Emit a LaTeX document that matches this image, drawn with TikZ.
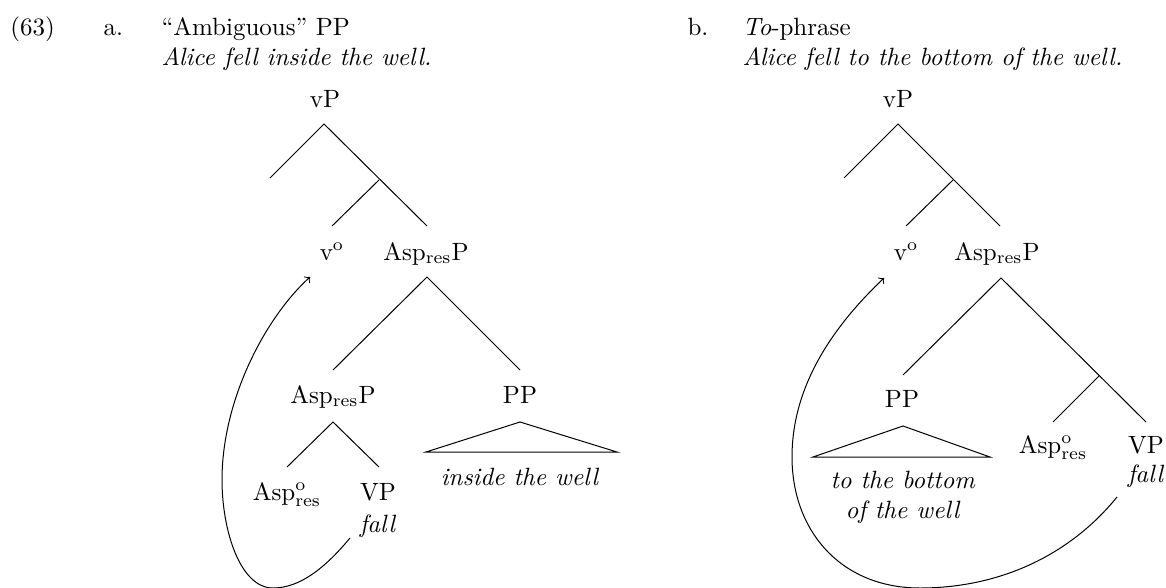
\documentclass[tikz,border=0pt]{standalone}
\begin{document}
\begin{tikzpicture}[x=0.4pt,y=-0.4pt,
  lbl/.style={anchor=base,inner sep=0pt},
  hdr/.style={anchor=base west,inner sep=0pt},
  br/.style={line width=0.4pt},
  mv/.style={->,line width=0.4pt}]
\useasboundingbox (0,0) rectangle (1166,587);
% headers
\node[hdr] (num) at (10,35) {(63)};
\node[hdr] (la) at (103,35) {a.};
\node[hdr] (ta) at (161,35) {``Ambiguous'' PP};
\node[hdr] (sa) at (161,65) {\textit{Alice fell inside the well.}};
\node[hdr] (lb) at (687,35) {b.};
\node[hdr] (tb) at (742,35) {\textit{To}-phrase};
\node[hdr] (sb) at (742,65) {\textit{Alice fell to the bottom of the well.}};
% ---------- tree a
\node[lbl] (vPa) at (325,107) {vP};
\node[lbl] (voa) at (332,260) {v$^{\mathrm{o}}$};
\node[lbl] (AspPa) at (426,260) {Asp$_{\mathrm{res}}$P};
\node[lbl] (AspPa2) at (333,403) {Asp$_{\mathrm{res}}$P};
\node[lbl] (PPa) at (520,403) {PP};
\node[lbl] (Aspoa) at (287,500) {Asp$^{\mathrm{o}}_{\mathrm{res}}$};
\node[lbl] (VPa) at (378,500) {VP};
\node[lbl] (falla) at (378,532) {\textit{fall}};
\node[lbl] (insa) at (520,485) {\textit{inside the well}};
\coordinate (a1) at (324,124);
\coordinate (a1l) at (270,178);
\coordinate (a1r) at (427,226);
\coordinate (a2) at (379,180);
\coordinate (a2l) at (332,226);
\coordinate (a3) at (427,277);
\coordinate (a3l) at (333,370);
\coordinate (a3r) at (520,370);
\coordinate (a4) at (333,422);
\coordinate (a4l) at (287,467);
\coordinate (a4r) at (379,467);
\coordinate (ta1) at (520,422);
\coordinate (ta2) at (426,452);
\coordinate (ta3) at (617,452);
\draw[br] (a1l) -- (a1) -- (a1r);
\draw[br] (a2) -- (a2l);
\draw[br] (a3l) -- (a3) -- (a3r);
\draw[br] (a4l) -- (a4) -- (a4r);
\draw[br] (ta1) -- (ta2) -- (ta3) -- cycle;
\coordinate (sa0) at (350,538);
\coordinate (ba0) at (273,588);
\coordinate (la0) at (222,480);
\coordinate (ea0) at (310,277);
\draw[mv] (sa0) .. controls (325,568) and (300,588) .. (ba0)
  .. controls (240,588) and (222,530) .. (la0)
  .. controls (222,400) and (265,318) .. (ea0);
% ---------- tree b
\node[lbl] (vPb) at (898,107) {vP};
\node[lbl] (vob) at (906,260) {v$^{\mathrm{o}}$};
\node[lbl] (AspPb) at (997,260) {Asp$_{\mathrm{res}}$P};
\node[lbl] (PPb) at (902,407) {PP};
\node[lbl] (Aspob) at (1053,453) {Asp$^{\mathrm{o}}_{\mathrm{res}}$};
\node[lbl] (VPb) at (1146,453) {VP};
\node[lbl] (fallb) at (1146,482) {\textit{fall}};
\node[lbl] (botb) at (903,488) {\textit{to the bottom}};
\node[lbl] (wellb) at (903,518) {\textit{of the well}};
\coordinate (b1) at (898,124);
\coordinate (b1l) at (844,178);
\coordinate (b1r) at (1000,226);
\coordinate (b2) at (953,180);
\coordinate (b2l) at (906,226);
\coordinate (b3) at (1001,278);
\coordinate (b3l) at (903,375);
\coordinate (b3r) at (1146,422);
\coordinate (b4) at (1099,376);
\coordinate (b4l) at (1053,422);
\coordinate (tb1) at (903,426);
\coordinate (tb2) at (813,457);
\coordinate (tb3) at (990,457);
\draw[br] (b1l) -- (b1) -- (b1r);
\draw[br] (b2) -- (b2l);
\draw[br] (b3l) -- (b3) -- (b3r);
\draw[br] (b4) -- (b4l);
\draw[br] (tb1) -- (tb2) -- (tb3) -- cycle;
\coordinate (sb0) at (1117,497);
\coordinate (bb0) at (920,588);
\coordinate (lb0) at (792,457);
\coordinate (eb0) at (884,278);
\draw[mv] (sb0) .. controls (1070,555) and (1000,588) .. (bb0)
  .. controls (840,588) and (792,530) .. (lb0)
  .. controls (792,380) and (840,320) .. (eb0);
\end{tikzpicture}
\end{document}
